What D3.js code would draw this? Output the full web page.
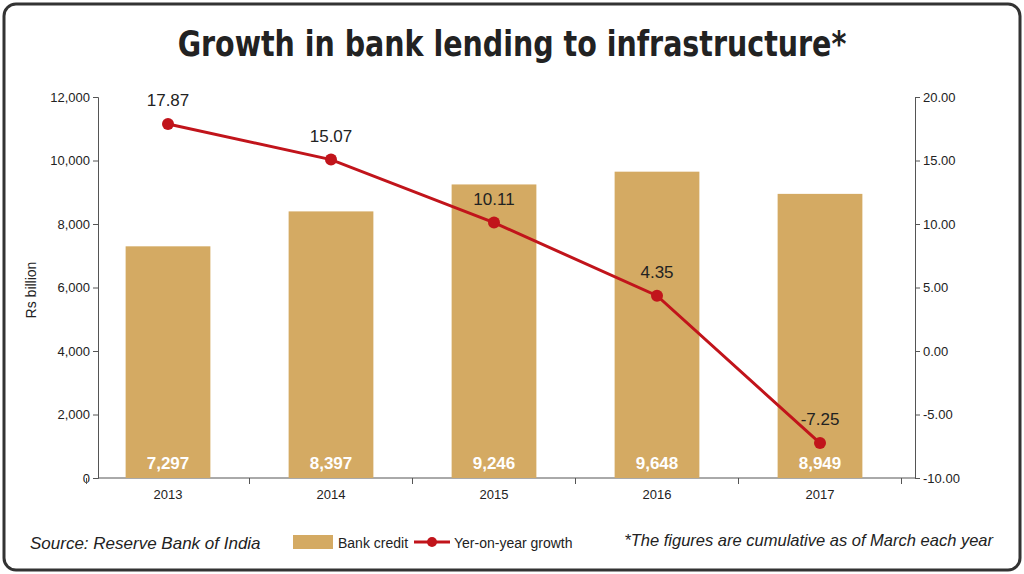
<!DOCTYPE html>
<html><head><meta charset="utf-8">
<script src="https://cdn.jsdelivr.net/npm/d3@7"></script>
<style>body{margin:0;background:#fff}svg{display:block}text{font-family:"Liberation Sans",Arial,sans-serif}</style>
</head><body>
<script>
var years = ["2013", "2014", "2015", "2016", "2017"];
var credit = [7297, 8397, 9246, 9648, 8949];
var growth = [17.87, 15.07, 10.11, 4.35, -7.25];
var leftTicks = [0, 2000, 4000, 6000, 8000, 10000, 12000];
var rightTicks = [-10, -5, 0, 5, 10, 15, 20];

var svg = d3.select("body").append("svg").attr("width", 1024).attr("height", 574);

// frame
svg.append("rect").attr("x", 4).attr("y", 4).attr("width", 1016).attr("height", 566)
    .attr("rx", 12).attr("fill", "none").attr("stroke", "#333").attr("stroke-width", 3);

svg.append("text").attr("x", 512).attr("y", 56).attr("text-anchor", "middle")
    .attr("font-size", 36).attr("font-weight", "bold").attr("fill", "#222")
    .style("font-family", "'DejaVu Sans Condensed','Liberation Sans Narrow',sans-serif")
    .attr("transform", "translate(512,0) scale(0.88,1) translate(-512,0)")
    .text("Growth in bank lending to infrastructure*");

var x = d3.scaleBand().domain(years).range([86.5, 901.5]).paddingInner(0.48).paddingOuter(0.24);
var yL = d3.scaleLinear().domain([0, 12000]).range([478, 97]);
var yR = d3.scaleLinear().domain([-10, 20]).range([478, 97]);
var fmt2 = function (d) { return d3.format(".2f")(d).replace("−", "-"); };

svg.append("g").attr("transform", "translate(98,0)")
    .call(d3.axisLeft(yL).tickValues(leftTicks).tickFormat(d3.format(",")).tickSize(5));
svg.append("g").attr("transform", "translate(915,0)")
    .call(d3.axisRight(yR).tickValues(rightTicks).tickFormat(fmt2).tickSize(5));
var bottom = svg.append("g").attr("transform", "translate(0,478)")
    .call(d3.axisBottom(x).tickSize(0).tickPadding(12));
svg.append("line").attr("x1", 98).attr("x2", 915).attr("y1", 478).attr("y2", 478).attr("stroke", "#555");
svg.selectAll(".tick line").attr("stroke", "#555");
svg.selectAll(".domain").attr("stroke", "#555");
bottom.select(".domain").remove();
svg.selectAll(".tick text").attr("font-size", 13).attr("fill", "#222");
// x ticks between categories
svg.selectAll(null).data(d3.range(6)).enter().append("line")
    .attr("x1", function (i) { return 86.5 + i * x.step(); }).attr("x2", function (i) { return 86.5 + i * x.step(); })
    .attr("y1", 478).attr("y2", 484).attr("stroke", "#555");

svg.append("text").attr("transform", "translate(36,290) rotate(-90)").attr("text-anchor", "middle")
    .attr("font-size", 14).attr("fill", "#222").text("Rs billion");

svg.selectAll(".bar").data(credit).enter().append("rect")
    .attr("x", function (d, i) { return x(years[i]); }).attr("width", x.bandwidth())
    .attr("y", function (d) { return yL(d); }).attr("height", function (d) { return 478 - yL(d); })
    .attr("fill", "#d4aa63");
svg.selectAll(".blab").data(credit).enter().append("text")
    .attr("x", function (d, i) { return x(years[i]) + x.bandwidth() / 2; }).attr("y", 469)
    .attr("text-anchor", "middle").attr("font-size", 17).attr("font-weight", "bold").attr("fill", "#fff")
    .text(d3.format(","));

var line = d3.line().x(function (d, i) { return x(years[i]) + x.bandwidth() / 2; }).y(function (d) { return yR(d); });
svg.append("path").datum(growth).attr("d", line).attr("fill", "none").attr("stroke", "#c1141b").attr("stroke-width", 3);
svg.selectAll(".pt").data(growth).enter().append("circle")
    .attr("cx", function (d, i) { return x(years[i]) + x.bandwidth() / 2; }).attr("cy", function (d) { return yR(d); })
    .attr("r", 6).attr("fill", "#c1141b");
svg.selectAll(".glab").data(growth).enter().append("text")
    .attr("x", function (d, i) { return x(years[i]) + x.bandwidth() / 2; }).attr("y", function (d) { return yR(d) - 18; })
    .attr("text-anchor", "middle").attr("font-size", 17).attr("fill", "#222")
    .text(fmt2);

// footer
svg.append("text").attr("x", 30).attr("y", 549).attr("font-size", 17).attr("font-style", "italic").attr("fill", "#222")
    .text("Source: Reserve Bank of India");
svg.append("rect").attr("x", 293).attr("y", 535).attr("width", 40).attr("height", 14).attr("fill", "#d4aa63");
svg.append("text").attr("x", 338).attr("y", 548).attr("font-size", 14).attr("fill", "#222").text("Bank credit");
svg.append("line").attr("x1", 414).attr("x2", 450).attr("y1", 542).attr("y2", 542).attr("stroke", "#c1141b").attr("stroke-width", 3);
svg.append("circle").attr("cx", 432).attr("cy", 542).attr("r", 5).attr("fill", "#c1141b");
svg.append("text").attr("x", 454).attr("y", 548).attr("font-size", 14).attr("fill", "#222").text("Yer-on-year growth");
svg.append("text").attr("x", 993).attr("y", 546).attr("text-anchor", "end").attr("font-size", 16.5).attr("font-style", "italic").attr("fill", "#222")
    .text("*The figures are cumulative as of March each year");
</script>
</body></html>
